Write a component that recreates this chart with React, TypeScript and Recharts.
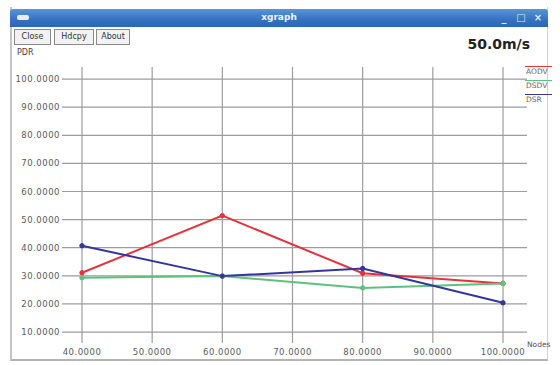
import React from "react";
import { LineChart, Line, XAxis, YAxis, ReferenceLine } from "recharts";

// Packet delivery ratio vs. number of nodes at 50.0 m/s
const nodes = [40, 60, 80, 100];
const aodv = [31.1, 51.4, 30.9, 27.3];
const dsdv = [29.3, 29.9, 25.7, 27.3];
const dsr = [40.7, 29.9, 32.6, 20.4];

const xTicks = [40, 50, 60, 70, 80, 90, 100];
const yTicks = [10, 20, 30, 40, 50, 60, 70, 80, 90, 100];

const seriesNames = ["AODV", "DSDV", "DSR"];
const seriesColors = ["#e2343f", "#5cc27c", "#34369c"];
const seriesValues = [aodv, dsdv, dsr];

const data = nodes.map((n, i) => {
  const row: Record<string, number> = { nodes: n };
  seriesNames.forEach((name, s) => {
    row[name] = seriesValues[s][i];
  });
  return row;
});

const W = 560;
const H = 365;
const FONT = "'DejaVu Sans', sans-serif";
const GRID = "#9c9c9c";
const tickStyle = { fontSize: 8.5, fill: "#5a5a5a", fontFamily: FONT, letterSpacing: 0.5 };

const fmt = (v: number) => v.toFixed(4);

const TitleBar = () => (
  <div
    style={{
      position: "absolute",
      left: 10,
      top: 9,
      width: 538,
      height: 18,
      background: "linear-gradient(#5b95d6, #3572bf 60%, #2d66b2)",
      borderRadius: "3px 3px 0 0",
    }}
  >
    <div
      style={{
        position: "absolute",
        left: 7,
        top: 6,
        width: 12,
        height: 5,
        background: "#e8eef8",
        borderRadius: 2,
      }}
    />
    <div
      style={{
        position: "absolute",
        left: 0,
        right: 0,
        top: 3,
        textAlign: "center",
        color: "#eef3fb",
        fontFamily: FONT,
        fontSize: 9,
        fontWeight: "bold",
      }}
    >
      xgraph
    </div>
    {["_", "□", "×"].map((g, i) => (
      <div
        key={g}
        style={{
          position: "absolute",
          left: 488 + i * 17,
          top: 3,
          width: 12,
          height: 12,
          color: "#dfe9f7",
          fontFamily: FONT,
          fontSize: 10,
          fontWeight: "bold",
          lineHeight: "12px",
          textAlign: "center",
        }}
      >
        {g}
      </div>
    ))}
  </div>
);

const buttons = [
  { label: "Close", left: 14, width: 37 },
  { label: "Hdcpy", left: 54, width: 40 },
  { label: "About", left: 96, width: 34 },
];

const Buttons = () => (
  <>
    {buttons.map((b) => (
      <div
        key={b.label}
        style={{
          position: "absolute",
          left: b.left,
          top: 29,
          width: b.width,
          height: 16,
          boxSizing: "border-box",
          border: "1px solid #8a8a8a",
          background: "#f2f2f2",
          fontFamily: FONT,
          fontSize: 8,
          lineHeight: "14px",
          textAlign: "center",
          color: "#333",
        }}
      >
        {b.label}
      </div>
    ))}
  </>
);

const SeriesKey = () => (
  <div
    style={{
      position: "absolute",
      left: 525,
      top: 66,
      fontFamily: FONT,
      fontSize: 7.5,
      color: "#666",
    }}
  >
    {seriesNames.map((name, i) => (
      <div key={name} style={{ position: "relative", height: 14 }}>
        <div
          style={{
            position: "absolute",
            left: 0,
            top: 0,
            width: 27,
            height: 1,
            background: seriesColors[i],
          }}
        />
        <div style={{ position: "absolute", left: 1, top: 1 }}>{name}</div>
      </div>
    ))}
  </div>
);

export default function App() {
  return (
    <div
      style={{
        position: "absolute",
        left: 0,
        top: 0,
        width: W,
        height: H,
        background: "#ffffff",
        overflow: "hidden",
      }}
    >
      {/* window frame */}
      <div
        style={{
          position: "absolute",
          left: 10,
          top: 7,
          width: 538,
          height: 354,
          boxSizing: "border-box",
          borderLeft: "2px solid #c4c4c4",
          borderRight: "1px solid #d0d0d0",
          borderBottom: "2px solid #b4b4b4",
          background: "#ffffff",
        }}
      />
      <TitleBar />
      <Buttons />
      <div
        style={{
          position: "absolute",
          left: 17,
          top: 48,
          fontFamily: FONT,
          fontSize: 8,
          color: "#444",
        }}
      >
        PDR
      </div>
      <div
        style={{
          position: "absolute",
          right: 30,
          top: 36,
          fontFamily: FONT,
          fontSize: 14,
          fontWeight: "bold",
          color: "#222",
        }}
      >
        50.0m/s
      </div>
      <div
        style={{
          position: "absolute",
          left: 527,
          top: 340,
          fontFamily: FONT,
          fontSize: 7.5,
          color: "#555",
        }}
      >
        Nodes
      </div>
      <SeriesKey />
      <div style={{ position: "absolute", left: 0, top: 0 }}>
        <LineChart
          width={W}
          height={H}
          data={data}
          margin={{ top: 67, right: 33, left: 0, bottom: 0 }}
        >
          <XAxis
            dataKey="nodes"
            type="number"
            domain={[37.15, 103.42]}
            allowDataOverflow
            ticks={xTicks}
            tickFormatter={fmt}
            height={22}
            axisLine={false}
            tickLine={false}
            tickSize={0}
            tickMargin={6}
            tick={tickStyle}
            interval={0}
          />
          <YAxis
            type="number"
            domain={[6.1, 104.3]}
            allowDataOverflow
            ticks={yTicks}
            tickFormatter={fmt}
            width={62}
            axisLine={false}
            tickLine={false}
            tickSize={0}
            tickMargin={2}
            tick={tickStyle}
            interval={0}
          />
          {/* grid: one line per tick */}
          {yTicks.map((t) => (
            <ReferenceLine key={`y${t}`} y={t} stroke={GRID} strokeWidth={1.2} />
          ))}
          {xTicks.map((t) => (
            <ReferenceLine key={`x${t}`} x={t} stroke={GRID} strokeWidth={1.2} />
          ))}
          {seriesNames.map((name, i) => (
            <Line
              key={name}
              dataKey={name}
              type="linear"
              stroke={seriesColors[i]}
              strokeWidth={2}
              dot={{ r: 2.2, fill: seriesColors[i], stroke: seriesColors[i], strokeWidth: 1 }}
              isAnimationActive={false}
            />
          ))}
        </LineChart>
      </div>
    </div>
  );
}
